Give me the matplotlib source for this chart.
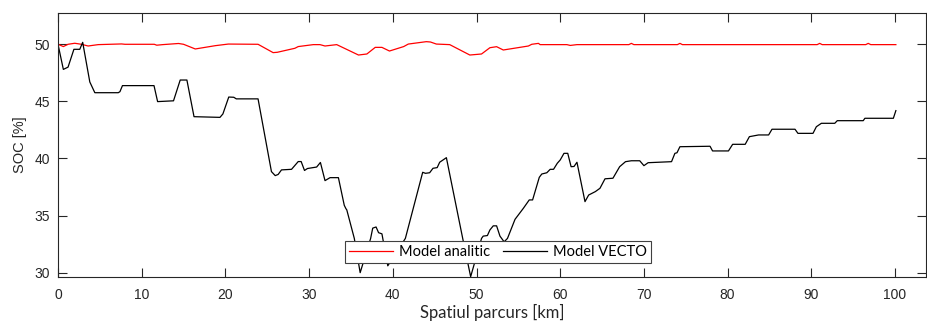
import matplotlib
matplotlib.use("Agg")
import matplotlib.pyplot as plt

# SOC along the route
red_x = [0, 0.64, 1.2, 2.0, 2.8, 3.6, 4.8, 7.6, 8.0, 11.5, 11.8, 12.5, 14.4, 15.0,
         16.4, 18.8, 20.35, 23.9, 25.7, 26.2, 28.3, 28.7, 30.5, 31.3, 31.9, 33.3,
         35.9, 36.9, 37.9, 38.7, 39.6, 41.3, 41.85, 44.0, 44.5, 45.2, 46.8, 49.2,
         50.6, 51.6, 52.4, 53.2, 56.2, 56.6, 57.4, 57.6, 60.8, 61.2, 62.0, 68.2,
         68.5, 68.8, 74.0, 74.3, 74.6, 90.7, 91.0, 91.3, 96.5, 96.8, 97.1, 100.1]
red_y = [50.0, 49.8, 50.0, 50.09, 50.0, 49.85, 49.97, 50.03, 50.0, 50.0, 49.92, 49.97,
         50.07, 50.0, 49.59, 49.88, 50.02, 50.0, 49.27, 49.3, 49.65, 49.8, 49.97, 49.97,
         49.85, 49.97, 49.06, 49.15, 49.73, 49.73, 49.41, 49.8, 50.02, 50.23, 50.2,
         50.02, 49.97, 49.06, 49.15, 49.7, 49.79, 49.5, 49.85, 50.0, 50.08, 49.97,
         49.97, 49.9, 49.97, 49.97, 50.08, 49.97, 49.97, 50.08, 49.97, 49.97, 50.08,
         49.97, 49.97, 50.08, 49.97, 49.97]

black_x = [0, 0.64, 1.2, 1.9, 2.6, 2.95, 3.8, 4.4, 7.2, 7.4, 7.7, 11.47, 11.9, 13.8,
           14.6, 15.4, 16.25, 19.35, 19.7, 20.4, 21.0, 21.3, 23.9, 25.5, 25.95, 26.3,
           26.7, 27.9, 28.7, 29.05, 29.45, 29.8, 30.9, 31.35, 31.9, 32.5, 33.5, 34.2,
           34.4, 34.5, 35.4, 36.1, 37.35, 37.6, 38.0, 38.3, 38.7, 38.8, 39.4, 41.5,
           43.57, 43.9, 44.4, 44.8, 45.3, 45.6, 46.0, 46.4, 48.35, 49.3, 50.6, 50.8,
           51.3, 51.6, 52.0, 52.4, 52.8, 53.0, 53.3, 53.7, 54.6, 55.6, 56.3, 56.7,
           57.5, 57.8, 58.4, 58.8, 59.2, 59.65, 60.0, 60.45, 60.9, 61.3, 61.65, 62.0,
           62.96, 63.4, 64.2, 64.75, 65.35, 66.3, 67.1, 67.8, 68.5, 69.5, 70.0, 70.5,
           73.3, 73.7, 73.95, 74.3, 77.9, 78.2, 80.1, 80.6, 82.1, 82.6, 83.7, 84.9,
           85.3, 88.05, 88.4, 90.2, 90.6, 91.2, 92.8, 93.1, 96.2, 96.4, 99.8, 100.1]
black_y = [50.0, 47.8, 48.0, 49.56, 49.56, 50.17, 46.7, 45.76, 45.76, 45.85, 46.38,
           46.38, 44.98, 45.05, 46.87, 46.87, 43.66, 43.6, 43.9, 45.38, 45.36, 45.22,
           45.22, 38.85, 38.5, 38.6, 39.0, 39.05, 39.73, 39.73, 38.95, 39.12, 39.25,
           39.65, 38.06, 38.32, 38.32, 35.9, 35.6, 35.5, 33.0, 30.0, 33.0, 33.9, 34.0,
           33.5, 33.4, 33.0, 30.6, 33.0, 38.79, 38.7, 38.75, 39.14, 39.2, 39.67, 39.87,
           40.07, 33.0, 29.65, 33.0, 33.2, 33.25, 33.74, 34.1, 34.1, 33.2, 33.0, 32.7,
           33.0, 34.67, 35.64, 36.37, 36.37, 38.35, 38.64, 38.75, 39.05, 39.05, 39.58,
           39.87, 40.45, 40.45, 39.28, 39.3, 39.67, 36.22, 36.8, 37.1, 37.39, 38.22,
           38.27, 39.28, 39.72, 39.8, 39.8, 39.37, 39.63, 39.72, 40.45, 40.5, 41.03,
           41.07, 40.66, 40.66, 41.24, 41.24, 41.91, 42.06, 42.06, 42.56, 42.56, 42.2,
           42.2, 42.78, 43.08, 43.08, 43.31, 43.31, 43.52, 43.52, 44.19]

axis_color = "#262626"

fig = plt.figure(figsize=(9.27, 3.21), dpi=100)
ax = fig.add_axes([58 / 927, 1 - 277 / 321, 868 / 927, 264 / 321])

ax.plot(red_x, red_y, color="#ff0000", lw=0.9, label="Model analitic")
ax.plot(black_x, black_y, color="black", lw=0.9, label="Model VECTO")

ax.set_xlim(0, 103.7)
ax.set_ylim(29.62, 52.74)
ax.set_xticks(range(0, 101, 10))
ax.set_yticks([30, 35, 40, 45, 50])

ax.tick_params(direction="in", length=6.5, width=0.8, top=True, right=True,
               colors=axis_color, labelsize=10)
ax.tick_params(axis="x", pad=8)
ax.tick_params(axis="y", pad=6)
for lab in ax.get_xticklabels() + ax.get_yticklabels():
    lab.set_family("Liberation Sans")
for sp in ax.spines.values():
    sp.set_color(axis_color)
    sp.set_linewidth(0.8)

ax.set_ylabel("SOC [%]", family="Liberation Sans", fontsize=10.5, color=axis_color,
              labelpad=5)
# the reference cuts the label at the bottom edge; keep it just inside here
ax.set_xlabel("Spatiul parcurs [km]", family="Lato", fontsize=12, color=axis_color,
              labelpad=1)

leg = ax.legend(loc="center", bbox_to_anchor=(0.507, 0.0947), ncol=2,
                prop={"family": "Lato", "size": 10.5}, frameon=True, fancybox=False,
                framealpha=1, edgecolor="#404040", handlelength=3.0,
                handletextpad=0.4, columnspacing=0.9, borderpad=0.3,
                borderaxespad=0)
leg.get_frame().set_linewidth(0.8)

fig.savefig("out.png", dpi=100)
